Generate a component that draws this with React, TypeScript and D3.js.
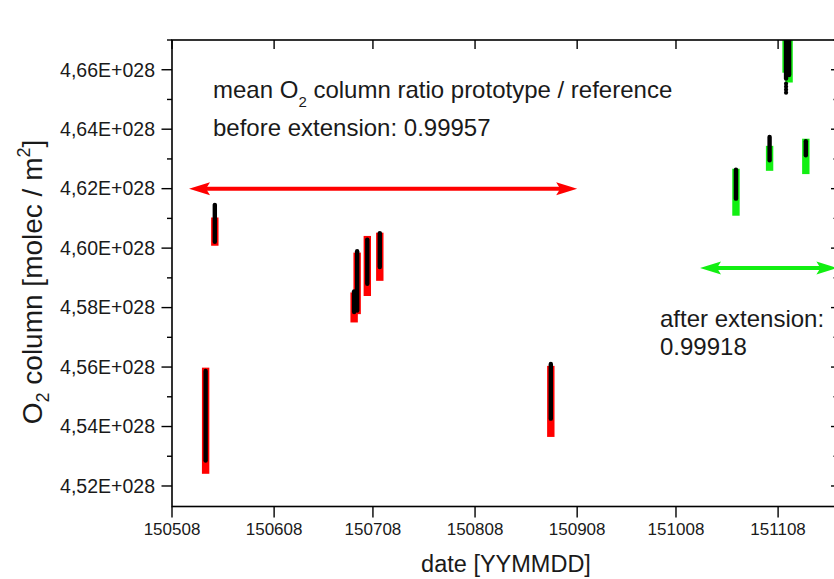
import React from "react";
import * as d3 from "d3";

const W = 834;
const H = 579;

// measurement clusters (date YYMMDD HH) and value ranges in 1E+028 molec/m2
const clusterDates = ["150518 05", "150521 00", "150702 07", "150703 05", "150706 07", "150710 02", "150831 00", "151026 05", "151105 10", "151110 10", "151111 08", "151116 10"];
const clusterPeriod = ["before", "before", "before", "before", "before", "before", "before", "after", "after", "after", "after", "after"];
const protoMax = [4.5594, 4.6153, 4.5862, 4.5997, 4.6036, 4.6058, 4.5618, 4.6271, 4.6381, 4.672, 4.672, 4.6367];
const protoMin = [4.5278, 4.6014, 4.5778, 4.5783, 4.5873, 4.5929, 4.5419, 4.6159, 4.6288, 4.6563, 4.6575, 4.6305];
const refMax = [4.5598, 4.6103, 4.5851, 4.5985, 4.6041, 4.6052, 4.5604, 4.6267, 4.6344, 4.672, 4.672, 4.6368];
const refMin = [4.5241, 4.6008, 4.575, 4.5778, 4.5839, 4.589, 4.5365, 4.6109, 4.626, 4.659, 4.6557, 4.6249];

// isolated prototype points
const extraDates = ["151110 10", "151110 10", "151110 10", "151110 10"];
const extraValues = [4.6553, 4.6543, 4.6533, 4.6523];

// axis ticks
const xTickLabels = ["150508", "150608", "150708", "150808", "150908", "151008", "151108"];
const yTickValues = [4.52, 4.54, 4.56, 4.58, 4.6, 4.62, 4.64, 4.66];
const yMinorValues = [4.53, 4.55, 4.57, 4.59, 4.61, 4.63, 4.65, 4.67];

// arrows (start date, end date, value)
const arrowStarts = ["150513 04", "151015 07"];
const arrowEnds = ["150908 00", "151126 00"];
const arrowValues = [4.62, 4.5933];
const arrowPeriod = ["before", "after"];

const parse = d3.timeParse("%y%m%d %H");
const parseDay = d3.timeParse("%y%m%d");

const FONT = "'Liberation Sans', Arial, Helvetica, sans-serif";
const COLORS: Record<string, string> = { before: "#ff0000", after: "#12ef12" };

export default function App() {
  const left = 172;
  const right = 840;
  const top = 40;
  const bottom = 506.5;

  const x = d3
    .scaleTime()
    .domain([parse("150508 00") as Date, parse("151126 19") as Date])
    .range([left, right]);
  const y = d3.scaleLinear().domain([4.5131, 4.67]).range([bottom, top]);

  const fmt = (v: number) => v.toFixed(2).replace(".", ",") + "E+028";

  const arrowHead = (tx: number, ty: number, dir: number) => {
    const L = 21;
    const hw = 6.5;
    const notch = 4;
    return `M${tx},${ty} L${tx + dir * L},${ty - hw} L${tx + dir * (L - notch)},${ty} L${tx + dir * L},${ty + hw} Z`;
  };

  return (
    <svg
      width={W}
      height={H}
      viewBox={`0 0 ${W} ${H}`}
      style={{ position: "absolute", left: 0, top: 0, background: "#fff" }}
      fontFamily={FONT}
    >
      <defs>
        <clipPath id="plot">
          <rect x={left} y={top} width={right - left} height={bottom - top} />
        </clipPath>
      </defs>
      <rect x={0} y={0} width={W} height={H} fill="#fff" />

      {/* data */}
      <g clipPath="url(#plot)">
        {clusterDates.map((d, i) => {
          const cx = x(parse(d) as Date);
          return (
            <rect
              key={"r" + i}
              x={cx - 3.7}
              width={7.4}
              y={y(refMax[i])}
              height={y(refMin[i]) - y(refMax[i])}
              fill={COLORS[clusterPeriod[i]]}
            />
          );
        })}
        {clusterDates.map((d, i) => {
          const cx = x(parse(d) as Date);
          return (
            <line
              key={"p" + i}
              x1={cx}
              x2={cx}
              y1={y(protoMax[i]) + 2.2}
              y2={y(protoMin[i]) - 2.2}
              stroke="#000"
              strokeWidth={4.4}
              strokeLinecap="round"
            />
          );
        })}
        {extraDates.map((d, i) => (
          <circle key={"e" + i} cx={x(parse(d) as Date)} cy={y(extraValues[i])} r={2.1} fill="#000" />
        ))}
      </g>

      {/* arrows */}
      {arrowStarts.map((s, i) => {
        const x1 = x(parse(s) as Date);
        const x2 = x(parse(arrowEnds[i]) as Date);
        const yy = y(arrowValues[i]);
        const c = COLORS[arrowPeriod[i]];
        return (
          <g key={"a" + i}>
            <line x1={x1 + 12} x2={x2 - 12} y1={yy} y2={yy} stroke={c} strokeWidth={4} />
            <path d={arrowHead(x1, yy, 1)} fill={c} />
            <path d={arrowHead(x2, yy, -1)} fill={c} />
          </g>
        );
      })}

      {/* frame */}
      <rect x={left} y={top} width={right - left} height={bottom - top} fill="none" stroke="#000" strokeWidth={1.6} />

      {/* y axis ticks */}
      {yTickValues.map((v) => (
        <g key={"yt" + v}>
          <line x1={left - 10.5} x2={left} y1={y(v)} y2={y(v)} stroke="#000" strokeWidth={1.4} />
          <line x1={right - 9} x2={right} y1={y(v)} y2={y(v)} stroke="#000" strokeWidth={1.4} />
          <text x={155} y={y(v)} dy="0.35em" textAnchor="end" fontSize={19.5} fill="#1a1a1a">
            {fmt(v)}
          </text>
        </g>
      ))}
      {yMinorValues.map((v) => (
        <g key={"ym" + v}>
          <line x1={left - 5} x2={left} y1={y(v)} y2={y(v)} stroke="#000" strokeWidth={1.4} />
          <line x1={right - 6.5} x2={right} y1={y(v)} y2={y(v)} stroke="#000" strokeWidth={1.4} />
        </g>
      ))}

      {/* x axis ticks */}
      {xTickLabels.map((t) => {
        const tx = x(parseDay(t) as Date);
        return (
          <g key={"xt" + t}>
            <line x1={tx} x2={tx} y1={bottom} y2={bottom + 11} stroke="#000" strokeWidth={1.4} />
            <line x1={tx} x2={tx} y1={top} y2={top + 9} stroke="#000" strokeWidth={1.4} />
            <text x={tx} y={535} textAnchor="middle" fontSize={17} fill="#1a1a1a">
              {t}
            </text>
          </g>
        );
      })}

      {/* axis titles */}
      <text x={506} y={572} textAnchor="middle" fontSize={23.5} fill="#1a1a1a">
        date [YYMMDD]
      </text>
      <text transform="translate(42,282) rotate(-90)" textAnchor="middle" fontSize={28} fill="#1a1a1a">
        <tspan>O</tspan>
        <tspan fontSize={18} dy={7}>2</tspan>
        <tspan dy={-7}> column [molec / m</tspan>
        <tspan fontSize={18} dy={-12}>2</tspan>
        <tspan dy={12}>]</tspan>
      </text>

      {/* annotations */}
      <text x={213} y={98} fontSize={24} fill="#1a1a1a">
        <tspan>mean O</tspan>
        <tspan fontSize={15} dy={9}>2</tspan>
        <tspan dy={-9}> column ratio prototype / reference</tspan>
      </text>
      <text x={213} y={136} fontSize={24} fill="#1a1a1a">
        before extension: 0.99957
      </text>
      <text x={660} y={327} fontSize={24} fill="#1a1a1a">
        after extension:
      </text>
      <text x={660} y={355} fontSize={24} fill="#1a1a1a">
        0.99918
      </text>
    </svg>
  );
}
